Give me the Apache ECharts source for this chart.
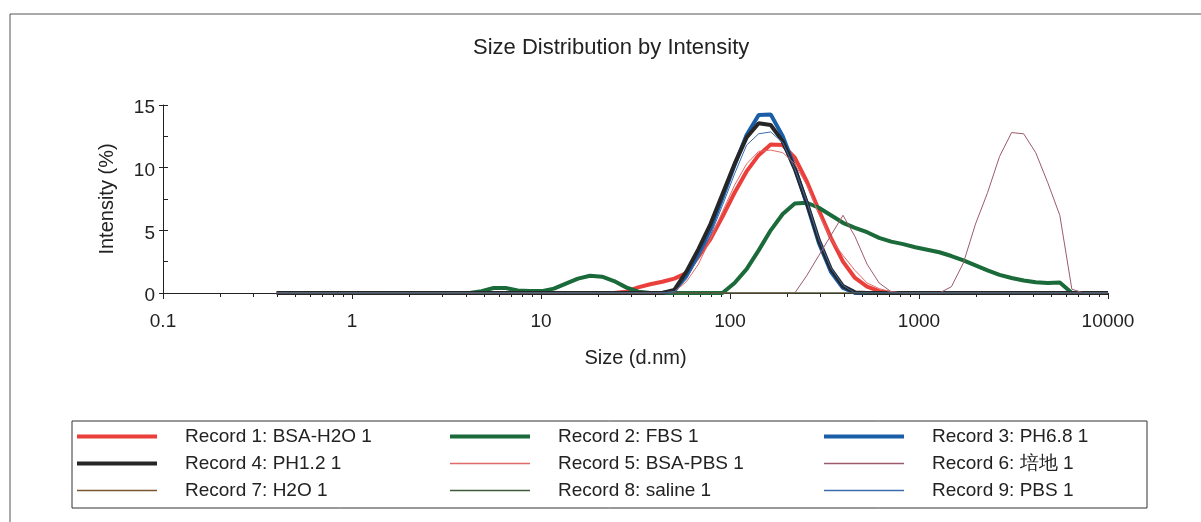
<!DOCTYPE html>
<html>
<head>
<meta charset="utf-8">
<script src="https://cdn.jsdelivr.net/npm/echarts@6/dist/echarts.min.js"></script>
<style>
html,body{margin:0;padding:0;background:#fff;}
#chart{width:1201px;height:522px;}
</style>
</head>
<body>
<div id="chart"></div>
<script>
// Size classes (d.nm)
const sizes = [0.4, 0.4632, 0.5365, 0.6213, 0.7195, 0.8332, 0.9649, 1.117, 1.294, 1.499,
  1.736, 2.01, 2.328, 2.696, 3.122, 3.615, 4.187, 4.849, 5.615, 6.503,
  7.531, 8.721, 10.1, 11.7, 13.54, 15.69, 18.17, 21.04, 24.36, 28.21,
  32.67, 37.84, 43.82, 50.75, 58.77, 68.06, 78.82, 91.28, 105.7, 122.4,
  141.8, 164.2, 190.1, 220.2, 255.0, 295.3, 342.0, 396.1, 458.7, 531.2,
  615.1, 712.4, 825.0, 955.4, 1106, 1281, 1484, 1718, 1990, 2305,
  2669, 3091, 3580, 4145, 4801, 5560, 6439, 7456, 8635, 10000];

const seriesNames = ['Record 1: BSA-H2O 1', 'Record 2: FBS 1', 'Record 3: PH6.8 1',
  'Record 4: PH1.2 1', 'Record 5: BSA-PBS 1', 'Record 6: 培地 1',
  'Record 7: H2O 1', 'Record 8: saline 1', 'Record 9: PBS 1'];

const rec1 = [0,0,0,0,0,0,0,0,0,0, 0,0,0,0,0,0,0,0,0,0,
  0,0,0,0,0,0,0,0,0,0.1, 0.45,0.7,0.9,1.15,1.6,2.9,4.3,6.1,8.0,9.7,
  11.0,11.85,11.8,10.8,8.9,6.6,4.4,2.5,1.2,0.5, 0.15,0,0,0,0,0,0,0,0,0,
  0,0,0,0,0,0,0,0,0,0];
const rec2 = [0,0,0,0,0,0,0,0,0,0, 0,0,0,0,0,0,0,0.15,0.4,0.4,
  0.2,0.15,0.15,0.35,0.75,1.15,1.38,1.3,0.95,0.45, 0.1,0,0,0,0,0,0,0,0.8,1.9,
  3.4,5.0,6.3,7.15,7.2,6.8,6.2,5.6,5.2,4.85, 4.4,4.1,3.9,3.65,3.45,3.25,2.95,2.6,2.2,1.8,
  1.45,1.2,1.0,0.85,0.8,0.83,0,0,0,0];
const rec3 = [0,0,0,0,0,0,0,0,0,0, 0,0,0,0,0,0,0,0,0,0,
  0,0,0,0,0,0,0,0,0,0, 0,0,0,0.15,1.4,3.1,5.1,7.6,10.2,12.6,
  14.2,14.25,12.5,10.0,7.1,4.0,1.7,0.4,0,0, 0,0,0,0,0,0,0,0,0,0,
  0,0,0,0,0,0,0,0,0,0];
const rec4 = [0,0,0,0,0,0,0,0,0,0, 0,0,0,0,0,0,0,0,0,0,
  0,0,0,0,0,0,0,0,0,0, 0,0,0,0.25,1.7,3.5,5.5,7.9,10.3,12.4,
  13.55,13.4,12.1,9.9,7.2,4.2,1.9,0.55,0.05,0, 0,0,0,0,0,0,0,0,0,0,
  0,0,0,0,0,0,0,0,0,0];
const rec5 = [0,0,0,0,0,0,0,0,0,0, 0,0,0,0,0,0,0,0,0,0,
  0,0,0,0,0,0,0,0,0,0, 0,0,0,0.1,0.9,2.3,4.3,6.5,8.6,10.3,
  11.3,11.4,11.2,10.3,8.6,6.3,4.3,3.0,1.8,0.8, 0.35,0.1,0,0,0,0,0,0,0,0,
  0,0,0,0,0,0,0,0,0,0];
const rec6 = [0,0,0,0,0,0,0,0,0,0, 0,0,0,0,0,0,0,0,0,0,
  0,0,0,0,0,0,0,0,0,0, 0,0,0,0,0,0,0,0,0,0,
  0,0,0,0,1.4,3.0,4.6,6.2,4.5,2.3, 0.8,0.1,0,0,0,0,0.5,2.4,5.5,8.0,
  10.9,12.8,12.7,11.2,8.8,6.2,0.3,0,0,0];
const rec7 = [0,0,0,0,0,0,0,0,0,0, 0,0,0,0,0,0,0,0,0,0,
  0,0,0,0,0,0,0,0,0,0, 0,0,0,0,0,0,0,0,0,0,
  0,0,0,0,0,0,0,0,0,0, 0,0,0,0,0,0,0,0,0,0,
  0,0,0,0,0,0,0,0,0,0];
const rec8 = [0,0,0,0,0,0,0,0,0,0, 0,0,0,0,0,0,0,0,0,0,
  0,0,0,0,0,0,0,0,0,0, 0,0,0,0,0,0,0,0,0,0,
  0,0,0,0,0,0,0,0,0,0, 0,0,0,0,0,0,0,0,0,0,
  0,0,0,0,0,0,0,0,0,0];
const rec9 = [0,0,0,0,0,0,0,0,0,0, 0,0,0,0,0,0,0,0,0,0,
  0,0,0,0,0,0,0,0,0,0, 0,0,0,0.1,1.1,2.8,4.6,7.0,9.5,11.8,
  12.7,12.85,12.0,9.9,7.3,4.3,2.0,0.6,0,0, 0,0,0,0,0,0,0,0,0,0,
  0,0,0,0,0,0,0,0,0,0];

const xMinorTicks = [0.2,0.3,0.4,0.5,0.6,0.7,0.8,0.9, 2,3,4,5,6,7,8,9,
  20,30,40,50,60,70,80,90, 200,300,400,500,600,700,800,900,
  2000,3000,4000,5000,6000,7000,8000,9000];

const allValues = [rec1, rec2, rec3, rec4, rec5, rec6, rec7, rec8, rec9];
const colors = ['#ea3f3b', '#1b6a3a', '#1a5ea8', '#262626', '#e06a6a', '#9c5b6b', '#7a5530', '#3e5c3a', '#3a6cb0'];
const widths = [4, 4, 4, 4, 1, 1, 1, 1, 1];

const FONT = "'Liberation Sans', Arial, sans-serif";
const THICK_ICON = 'path://M0,0 L80,0 L80,4 L0,4 Z';
const THIN_ICON = 'path://M0,0 L80,0 L80,1.4 L0,1.4 Z';

const chart = echarts.init(document.getElementById('chart'), null, {renderer: 'canvas'});

const series = allValues.map((vals, k) => ({
  name: seriesNames[k],
  type: 'line',
  xAxisIndex: 0,
  yAxisIndex: 0,
  symbol: 'none',
  smooth: false,
  z: 2 + k,
  lineStyle: {color: colors[k], width: widths[k]},
  itemStyle: {color: colors[k]},
  emphasis: {disabled: true},
  data: sizes.map((s, i) => [s, vals[i]])
}));

function legendCol(idx, left) {
  return {
    orient: 'vertical',
    left: left,
    top: 427,
    padding: 0,
    itemWidth: 80,
    itemHeight: 14,
    itemGap: 8,
    selectedMode: false,
    symbolKeepAspect: true,
    data: idx.map(k => ({name: seriesNames[k], icon: widths[k] > 2 ? THICK_ICON : THIN_ICON,
      itemStyle: {color: colors[k], borderWidth: 0}})),
    textStyle: {fontFamily: FONT, fontSize: 19, color: '#222', lineHeight: 19, padding: [0, 0, 0, 23]}
  };
}

const option = {
  animation: false,
  backgroundColor: '#fff',
  title: {
    text: 'Size Distribution by Intensity',
    left: 473,
    top: 37,
    padding: 0,
    textStyle: {fontFamily: FONT, fontSize: 22, fontWeight: 'normal', color: '#222'}
  },
  legend: [
    legendCol([0, 3, 6], 77),
    legendCol([1, 4, 7], 450),
    legendCol([2, 5, 8], 824)
  ],
  grid: {left: 163, right: 93, top: 105, bottom: 229, containLabel: false},
  xAxis: [
    {
      type: 'log', logBase: 10, min: 0.1, max: 10000,
      name: 'Size (d.nm)', nameLocation: 'middle', nameGap: 55,
      nameTextStyle: {fontFamily: FONT, fontSize: 20, color: '#222'},
      axisLine: {show: true, lineStyle: {color: '#222', width: 1}},
      axisTick: {show: true, length: 6, lineStyle: {color: '#222'}},
      axisLabel: {fontFamily: FONT, fontSize: 19, color: '#222', margin: 19,
        formatter: v => String(+Number(v).toPrecision(6))},
      splitLine: {show: false},
      minorTick: {show: false}
    },
    {
      type: 'log', logBase: 10, min: 0.1, max: 10000, position: 'bottom', gridIndex: 0,
      axisLine: {show: false},
      axisTick: {show: true, length: 4, customValues: xMinorTicks, lineStyle: {color: '#222'}},
      axisLabel: {show: false},
      splitLine: {show: false}
    }
  ],
  yAxis: [
    {
      type: 'value', min: 0, max: 15, interval: 5,
      name: 'Intensity (%)', nameLocation: 'middle', nameGap: 46, nameRotate: 90,
      nameTextStyle: {fontFamily: FONT, fontSize: 20, color: '#222'},
      axisLine: {show: true, lineStyle: {color: '#222', width: 1}},
      axisTick: {show: true, length: 4, lineStyle: {color: '#222'}},
      axisLabel: {fontFamily: FONT, fontSize: 19, color: '#222', margin: 8,
        formatter: v => '{a|' + v + '}',
        rich: {a: {fontFamily: FONT, fontSize: 19, color: '#222', padding: [6, 0, 0, 0]}}},
      splitLine: {show: false}
    },
    {
      type: 'value', min: 0, max: 15, interval: 2.5, position: 'left', offset: 0,
      axisLine: {show: false},
      axisTick: {show: true, inside: true, length: 5, lineStyle: {color: '#222'}},
      axisLabel: {show: false},
      splitLine: {show: false}
    }
  ],
  graphic: [
    {type: 'rect', shape: {x: 10, y: 14, width: 1300, height: 700}, style: {fill: 'none', stroke: '#555', lineWidth: 1}, silent: true, z: -1},
    {type: 'rect', shape: {x: 72, y: 421, width: 1075, height: 87}, style: {fill: 'none', stroke: '#333', lineWidth: 1}, silent: true, z: -1}
  ],
  series: series
};

chart.setOption(option);
</script>
</body>
</html>
